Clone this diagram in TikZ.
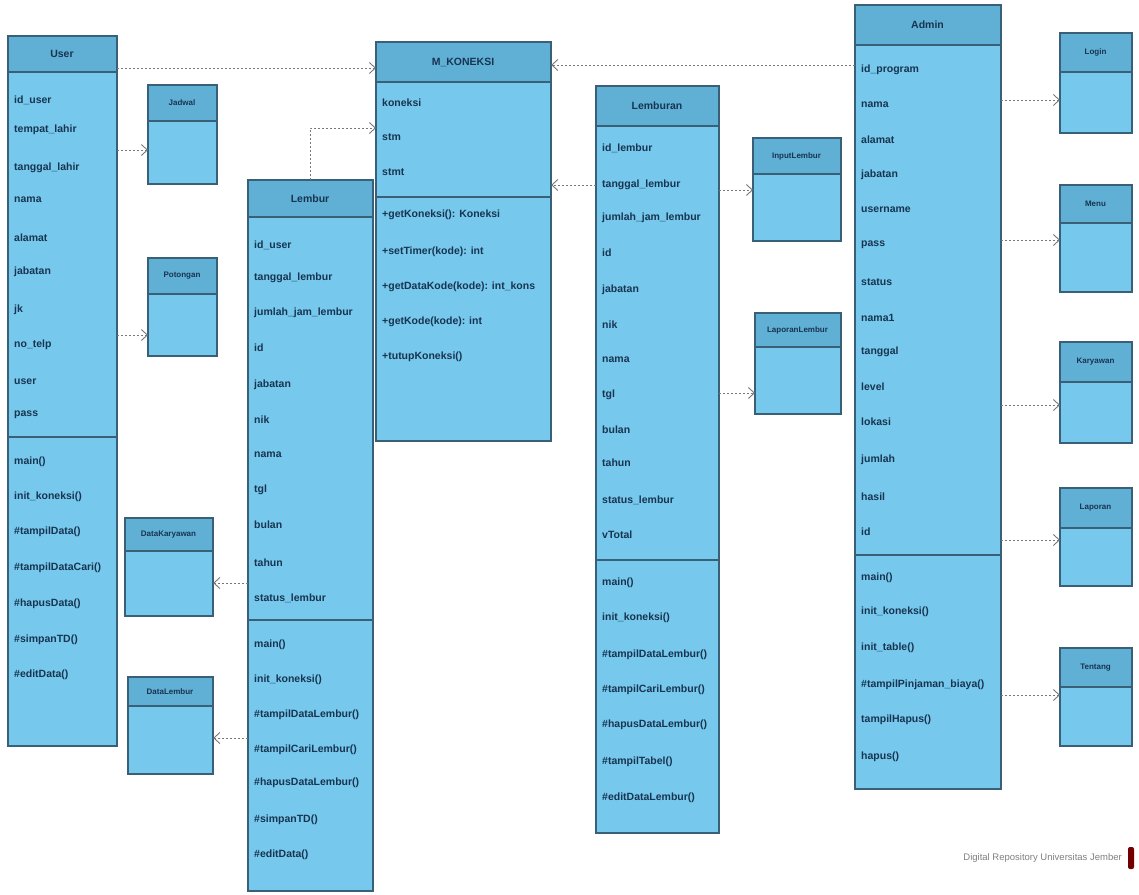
\documentclass[tikz,border=0pt]{standalone}
\usepackage{fontspec}
\setmainfont{Liberation Sans}
\usetikzlibrary{arrows.meta,calc}
\definecolor{boxfill}{RGB}{118,200,236}
\definecolor{hdrfill}{RGB}{96,176,214}
\definecolor{bordercol}{RGB}{58,96,120}
\definecolor{txtcol}{RGB}{24,52,80}
\definecolor{linecol}{RGB}{120,120,120}
\tikzset{
  cls/.style={fill=boxfill, draw=bordercol, line width=1.2pt, anchor=north west, inner sep=0pt},
  sepline/.style={draw=bordercol, line width=1.4pt},
  attr/.style={anchor=west, inner sep=0pt, text=txtcol, font=\fontsize{10.5}{11}\selectfont\bfseries},
  ttl/.style={inner sep=0pt, text=txtcol, font=\fontsize{10.5}{11}\selectfont\bfseries},
  sttl/.style={inner sep=0pt, text=txtcol, font=\fontsize{8}{9}\selectfont\bfseries},
  dep/.style={draw=linecol, line width=0.9pt, dash pattern=on 2pt off 2pt, -{Straight Barb[length=6pt,width=11pt]}},
}
% name, x, y, w, h, header-bottom y, title, title style
\newcommand{\mkclass}[8]{%
  \node[cls, minimum width=#4pt, minimum height=#5pt] (#1) at (#2,#3) {};
  \fill[hdrfill] (#2,#3) rectangle ({#2+#4},#6);
  \draw[sepline] (#2,#6) -- ({#2+#4},#6);
  \draw[draw=bordercol, line width=1.2pt] (#1.north west) rectangle (#1.south east);
  \node[#8] (#1-title) at ({#2+#4/2},{(#3+#6)/2}) {#7};
}
\begin{document}
\begin{tikzpicture}[x=1pt,y=-1pt]
\useasboundingbox (0,0) rectangle (1139,894);
\fill[white] (0,0) rectangle (1139,894);

% ---------- class A ----------
\mkclass{A}{8}{36}{108}{709}{72}{User}{ttl}
\draw[sepline] (8,437) -- (116,437);
\foreach [count=\i] \t/\yy in {id\_user/100, tempat\_lahir/130, tanggal\_lahir/168, nama/200, alamat/238, jabatan/272, jk/310, no\_telp/345, user/382, pass/415}
  \node[attr] (A-a\i) at (14,\yy) {\t};
\foreach [count=\i] \t/\yy in {main()/462, init\_koneksi()/497, \#tampilData()/532, \#tampilDataCari()/568, \#hapusData()/604, \#simpanTD()/640, \#editData()/675}
  \node[attr] (A-m\i) at (14,\yy) {\t};

% ---------- small boxes left ----------
\mkclass{B1}{148}{85}{68}{98}{121}{Jadwal}{sttl}
\mkclass{B2}{148}{258}{68}{97}{294}{Potongan}{sttl}
\mkclass{B3}{125}{518}{87}{97}{551}{DataKaryawan}{sttl}
\mkclass{B4}{128}{677}{84}{96}{706}{DataLembur}{sttl}

% ---------- class C ----------
\mkclass{C}{248}{180}{124}{710}{217}{Lembur}{ttl}
\draw[sepline] (248,620) -- (372,620);
\foreach [count=\i] \t/\yy in {id\_user/245, tanggal\_lembur/278, jumlah\_jam\_lembur/313, id/348, jabatan/385, nik/420, nama/455, tgl/490, bulan/525, tahun/563, status\_lembur/598}
  \node[attr] (C-a\i) at (254,\yy) {\t};
\foreach [count=\i] \t/\yy in {main()/645, init\_koneksi()/680, \#tampilDataLembur()/715, \#tampilCariLembur()/750, \#hapusDataLembur()/783, \#simpanTD()/820, \#editData()/855}
  \node[attr] (C-m\i) at (254,\yy) {\t};

% ---------- class D ----------
\mkclass{D}{376}{42}{174}{398}{82}{M\_KONEKSI}{ttl}
\draw[sepline] (376,197) -- (550,197);
\foreach [count=\i] \t/\yy in {koneksi/103, stm/137, stmt/172}
  \node[attr] (D-a\i) at (382,\yy) {\t};
\foreach [count=\i] \t/\yy in {+getKoneksi(): Koneksi/215, +setTimer(kode): int/252, +getDataKode(kode): int\_kons/287, +getKode(kode): int/322, +tutupKoneksi()/357}
  \node[attr] (D-m\i) at (382,\yy) {\t};

% ---------- class E ----------
\mkclass{E}{596}{86}{122}{746}{126}{Lemburan}{ttl}
\draw[sepline] (596,560) -- (718,560);
\foreach [count=\i] \t/\yy in {id\_lembur/148, tanggal\_lembur/185, jumlah\_jam\_lembur/218, id/253, jabatan/290, nik/325, nama/360, tgl/395, bulan/430, tahun/463, status\_lembur/500, vTotal/535}
  \node[attr] (E-a\i) at (602,\yy) {\t};
\foreach [count=\i] \t/\yy in {main()/583, init\_koneksi()/618, \#tampilDataLembur()/655, \#tampilCariLembur()/690, \#hapusDataLembur()/725, \#tampilTabel()/762, \#editDataLembur()/798}
  \node[attr] (E-m\i) at (602,\yy) {\t};

% ---------- small boxes middle ----------
\mkclass{F1}{753}{138}{87}{102}{174}{InputLembur}{sttl}
\mkclass{F2}{755}{313}{85}{100}{347}{LaporanLembur}{sttl}

% ---------- class G ----------
\mkclass{G}{855}{5}{145}{783}{45}{Admin}{ttl}
\draw[sepline] (855,555) -- (1000,555);
\foreach [count=\i] \t/\yy in {id\_program/70, nama/105, alamat/140, jabatan/175, username/210, pass/245, status/282, nama1/318, tanggal/352, level/387, lokasi/422, jumlah/460, hasil/497, id/532}
  \node[attr] (G-a\i) at (861,\yy) {\t};
\foreach [count=\i] \t/\yy in {main()/578, init\_koneksi()/612, init\_table()/648, \#tampilPinjaman\_biaya()/685, tampilHapus()/720, hapus()/757}
  \node[attr] (G-m\i) at (861,\yy) {\t};

% ---------- small boxes right ----------
\mkclass{H1}{1060}{33}{71}{99}{72}{Login}{sttl}
\mkclass{H2}{1060}{185}{71}{106}{223}{Menu}{sttl}
\mkclass{H3}{1060}{342}{71}{100}{382}{Karyawan}{sttl}
\mkclass{H4}{1060}{488}{71}{97}{528}{Laporan}{sttl}
\mkclass{H5}{1060}{648}{71}{97}{687}{Tentang}{sttl}

% ---------- connectors ----------
\draw[dep] ([yshift=-32pt]A.north east) -- ([yshift=-26pt]D.north west);
\draw[dep] ([yshift=-114pt]A.north east) -- ([yshift=-65pt]B1.north west);
\draw[dep] ([yshift=-299pt]A.north east) -- ([yshift=-77pt]B2.north west);
\draw[dep] ([yshift=-403pt]C.north west) -- ([yshift=-65pt]B3.north east);
\draw[dep] ([yshift=-558pt]C.north west) -- ([yshift=-61pt]B4.north east);
\draw[dep] ([xshift=62pt]C.north west) |- ([yshift=-86pt]D.north west);
\draw[dep] ([yshift=-60pt]G.north west) -- ([yshift=-23pt]D.north east);
\draw[dep] ([yshift=-99pt]E.north west) -- ([yshift=-143pt]D.north east);
\draw[dep] ([yshift=-104pt]E.north east) -- ([yshift=-52pt]F1.north west);
\draw[dep] ([yshift=-307pt]E.north east) -- ([yshift=-80pt]F2.north west);
\draw[dep] ([yshift=-95pt]G.north east) -- ([yshift=-67pt]H1.north west);
\draw[dep] ([yshift=-235pt]G.north east) -- ([yshift=-55pt]H2.north west);
\draw[dep] ([yshift=-400pt]G.north east) -- ([yshift=-63pt]H3.north west);
\draw[dep] ([yshift=-535pt]G.north east) -- ([yshift=-52pt]H4.north west);
\draw[dep] ([yshift=-690pt]G.north east) -- ([yshift=-47pt]H5.north west);

% ---------- footer ----------
\node[anchor=east, inner sep=0pt, text=gray, font=\fontsize{9.5}{10}\selectfont] (foot) at (1122,858) {Digital Repository Universitas Jember};
\node[fill=red!45!black, rounded corners=2pt, minimum width=6pt, minimum height=22pt, inner sep=0pt] (mark) at (1131,858) {};
\end{tikzpicture}
\end{document}
